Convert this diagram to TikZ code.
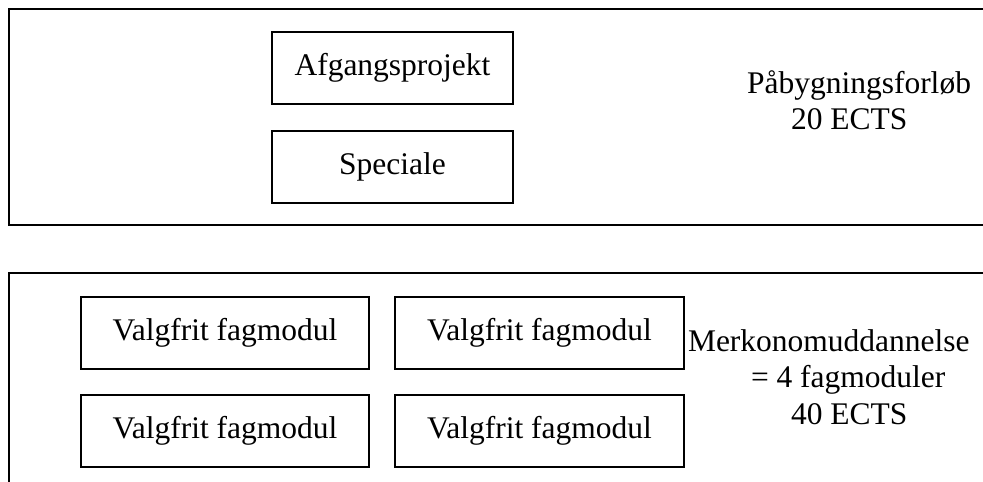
\documentclass[tikz,border=0pt]{standalone}
\usepackage{fontspec}
\setmainfont{Liberation Serif}
\usetikzlibrary{positioning}

\tikzset{
    modulbox/.style={draw, line width=2pt, inner sep=0pt, minimum height=72pt},
    sidetext/.style={anchor=west, align=left, inner sep=0pt}
}

\begin{document}
\begin{tikzpicture}[x=1pt, y=-1pt, line width=2pt, font=\fontsize{31.5}{36.5}\selectfont]
    \useasboundingbox (0,0) rectangle (983,482);
    \draw (983,9) -- (9,9) -- (9,225) -- (983,225);
    \draw (983,273) -- (9,273) -- (9,482);
    \node[modulbox, minimum width=241pt] (afgang) at (392.5,68) {Afgangsprojekt};
    \node[modulbox, minimum width=241pt, below=25pt of afgang] (speciale) {Speciale};
    \node[sidetext] (paabyg) at (746,100) {Påbygningsforløb\\\hspace*{44pt}20 ECTS};
    \node[modulbox, minimum width=288pt] (valg1) at (225,333) {Valgfrit fagmodul};
    \node[modulbox, minimum width=289pt, right=24pt of valg1] (valg2) {Valgfrit fagmodul};
    \node[modulbox, minimum width=288pt, below=24pt of valg1] (valg3) {Valgfrit fagmodul};
    \node[modulbox, minimum width=289pt, right=24pt of valg3] (valg4) {Valgfrit fagmodul};
    \node[sidetext] (merkonom) at (687,377) {Merkonomuddannelse\\\hspace*{63pt}= 4 fagmoduler\\\hspace*{103pt}40 ECTS};
\end{tikzpicture}
\end{document}
